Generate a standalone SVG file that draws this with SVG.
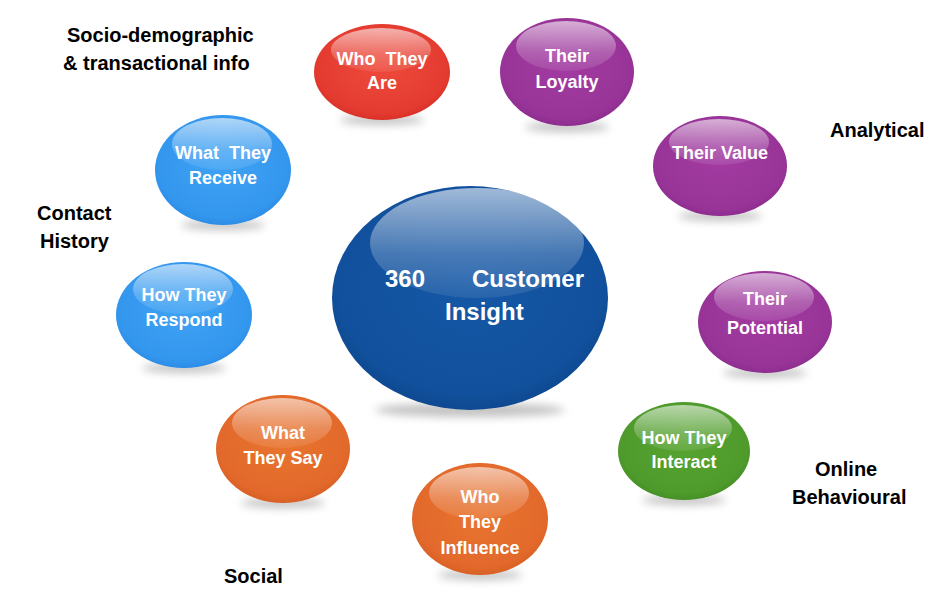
<svg xmlns="http://www.w3.org/2000/svg" width="944" height="594" viewBox="0 0 944 594">
<style>
  .lbl { font-family: "Liberation Sans", Arial, sans-serif; font-weight: bold; font-size: 20px; fill: #000; }
  .bt { font-family: "Liberation Sans", Arial, sans-serif; font-weight: bold; font-size: 18px; fill: #fff; text-anchor: middle; }
  .ct { font-family: "Liberation Sans", Arial, sans-serif; font-weight: bold; font-size: 24px; fill: #fff; }
  .hl { fill: url(#gloss); }
  .sh { fill: #666; opacity: 0.4; filter: url(#blur); }
</style>
<defs>
  <linearGradient id="gloss" x1="0" y1="0" x2="0" y2="1">
    <stop offset="0" stop-color="#fff" stop-opacity="0.6"/>
    <stop offset="0.6" stop-color="#fff" stop-opacity="0.22"/>
    <stop offset="1" stop-color="#fff" stop-opacity="0.08"/>
  </linearGradient>
  <radialGradient id="red" cx="0.5" cy="0.45" r="0.6">
    <stop offset="0" stop-color="#ee4a3c"/><stop offset="0.8" stop-color="#e43b30"/><stop offset="1" stop-color="#d02a22"/>
  </radialGradient>
  <radialGradient id="pur" cx="0.5" cy="0.45" r="0.6">
    <stop offset="0" stop-color="#a23ba2"/><stop offset="0.8" stop-color="#983497"/><stop offset="1" stop-color="#86288a"/>
  </radialGradient>
  <radialGradient id="blu" cx="0.5" cy="0.45" r="0.6">
    <stop offset="0" stop-color="#3ea2f4"/><stop offset="0.8" stop-color="#3497ee"/><stop offset="1" stop-color="#2585e0"/>
  </radialGradient>
  <radialGradient id="ora" cx="0.5" cy="0.45" r="0.6">
    <stop offset="0" stop-color="#e8742f"/><stop offset="0.8" stop-color="#e2692b"/><stop offset="1" stop-color="#d35a20"/>
  </radialGradient>
  <radialGradient id="grn" cx="0.5" cy="0.45" r="0.6">
    <stop offset="0" stop-color="#58a431"/><stop offset="0.8" stop-color="#4e9a2b"/><stop offset="1" stop-color="#408a22"/>
  </radialGradient>
  <radialGradient id="dblu" cx="0.5" cy="0.45" r="0.6">
    <stop offset="0" stop-color="#1558a6"/><stop offset="0.8" stop-color="#11509c"/><stop offset="1" stop-color="#0c4488"/>
  </radialGradient>
  <filter id="blur" x="-50%" y="-200%" width="200%" height="500%">
    <feGaussianBlur stdDeviation="4"/>
  </filter>
</defs>

<g id="labels">
  <text class="lbl" x="67" y="42">Socio-demographic</text>
  <text class="lbl" x="63" y="70">&amp; transactional info</text>
  <text class="lbl" x="830" y="137">Analytical</text>
  <text class="lbl" x="37" y="220">Contact</text>
  <text class="lbl" x="40" y="248">History</text>
  <text class="lbl" x="815" y="476">Online</text>
  <text class="lbl" x="792" y="504">Behavioural</text>
  <text class="lbl" x="224" y="583">Social</text>
</g>

<g id="center">
  <ellipse class="sh" cx="470" cy="410" rx="95" ry="7"/>
  <ellipse cx="470" cy="298" rx="138" ry="112" fill="url(#dblu)"/>
  <ellipse class="hl" cx="477" cy="243" rx="107" ry="55"/>
  <text class="ct" x="385" y="287">360</text>
  <text class="ct" x="472" y="287">Customer</text>
  <text class="ct" x="445" y="320">Insight</text>
</g>

<g id="who-they-are">
  <ellipse class="sh" cx="382" cy="120" rx="42" ry="5"/>
  <ellipse cx="382" cy="72" rx="68" ry="48" fill="url(#red)"/>
  <ellipse class="hl" cx="381" cy="50" rx="50" ry="22"/>
  <text class="bt" x="382" y="65" xml:space="preserve">Who  They</text>
  <text class="bt" x="382" y="89">Are</text>
</g>

<g id="their-loyalty">
  <ellipse class="sh" cx="567" cy="127" rx="42" ry="5"/>
  <ellipse cx="567" cy="72" rx="67" ry="54" fill="url(#pur)"/>
  <ellipse class="hl" cx="566" cy="46" rx="50" ry="25"/>
  <text class="bt" x="567" y="62">Their</text>
  <text class="bt" x="567" y="88">Loyalty</text>
</g>

<g id="their-value">
  <ellipse class="sh" cx="720" cy="216" rx="42" ry="5"/>
  <ellipse cx="720" cy="166" rx="67" ry="50" fill="url(#pur)"/>
  <ellipse class="hl" cx="719" cy="142" rx="50" ry="23"/>
  <text class="bt" x="720" y="159">Their Value</text>
</g>

<g id="their-potential">
  <ellipse class="sh" cx="765" cy="373" rx="42" ry="5"/>
  <ellipse cx="765" cy="322" rx="67" ry="51" fill="url(#pur)"/>
  <ellipse class="hl" cx="764" cy="297" rx="50" ry="24"/>
  <text class="bt" x="765" y="305">Their</text>
  <text class="bt" x="765" y="334">Potential</text>
</g>

<g id="how-they-interact">
  <ellipse class="sh" cx="684" cy="500" rx="42" ry="5"/>
  <ellipse cx="684" cy="451" rx="66" ry="49" fill="url(#grn)"/>
  <ellipse class="hl" cx="683" cy="428" rx="49" ry="23"/>
  <text class="bt" x="684" y="444">How They</text>
  <text class="bt" x="684" y="468">Interact</text>
</g>

<g id="who-they-influence">
  <ellipse class="sh" cx="480" cy="575" rx="42" ry="5"/>
  <ellipse cx="480" cy="519" rx="68" ry="56" fill="url(#ora)"/>
  <ellipse class="hl" cx="479" cy="493" rx="50" ry="26"/>
  <text class="bt" x="480" y="503">Who</text>
  <text class="bt" x="480" y="528">They</text>
  <text class="bt" x="480" y="554">Influence</text>
</g>

<g id="what-they-say">
  <ellipse class="sh" cx="283" cy="503" rx="42" ry="5"/>
  <ellipse cx="283" cy="449" rx="67" ry="54" fill="url(#ora)"/>
  <ellipse class="hl" cx="282" cy="423" rx="50" ry="25"/>
  <text class="bt" x="283" y="439">What</text>
  <text class="bt" x="283" y="464">They Say</text>
</g>

<g id="how-they-respond">
  <ellipse class="sh" cx="184" cy="368" rx="42" ry="5"/>
  <ellipse cx="184" cy="315" rx="68" ry="53" fill="url(#blu)"/>
  <ellipse class="hl" cx="183" cy="289" rx="50" ry="25"/>
  <text class="bt" x="184" y="301">How They</text>
  <text class="bt" x="184" y="326">Respond</text>
</g>

<g id="what-they-receive">
  <ellipse class="sh" cx="223" cy="225" rx="42" ry="5"/>
  <ellipse cx="223" cy="170" rx="68" ry="55" fill="url(#blu)"/>
  <ellipse class="hl" cx="222" cy="144" rx="50" ry="26"/>
  <text class="bt" x="223" y="159" xml:space="preserve">What  They</text>
  <text class="bt" x="223" y="184">Receive</text>
</g>
</svg>
